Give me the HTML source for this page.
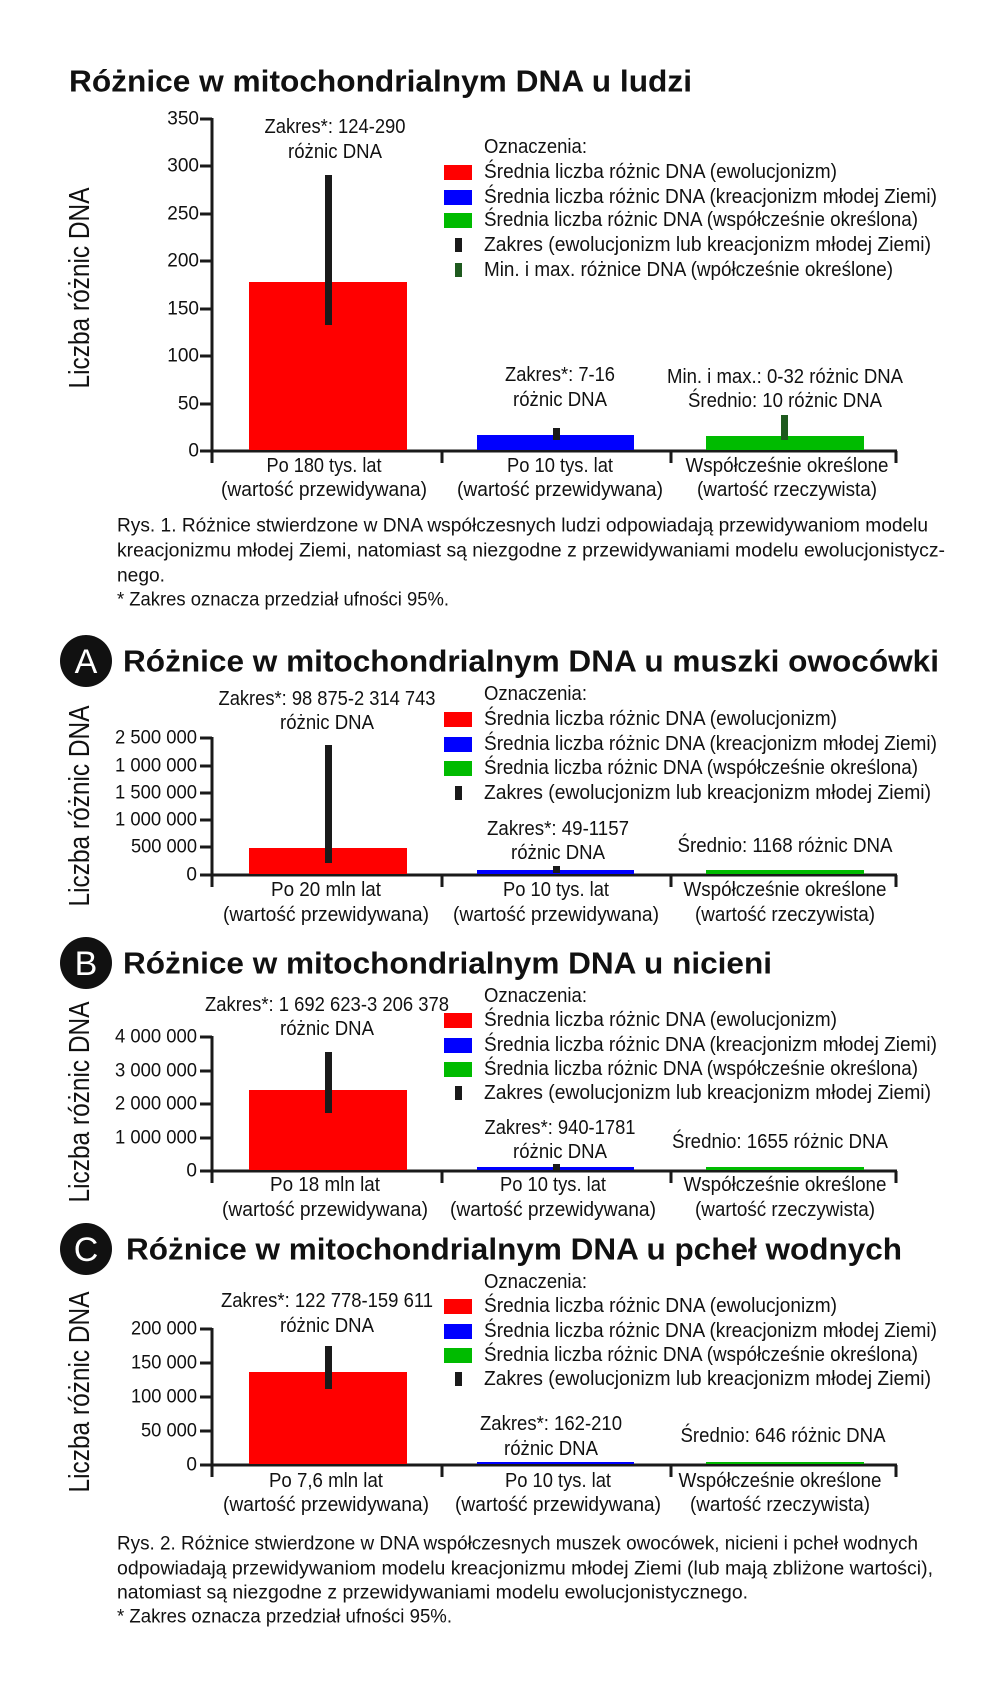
<!DOCTYPE html>
<html><head><meta charset="utf-8"><style>
html,body{margin:0;padding:0;background:#fff;}
svg{display:block;}
text{font-family:"Liberation Sans",sans-serif;fill:#111;}
</style></head><body>
<svg width="1000" height="1685" viewBox="0 0 1000 1685" xmlns="http://www.w3.org/2000/svg">
<defs></defs>
<g font-size="20" dominant-baseline="central" lengthAdjust="spacingAndGlyphs">

<!-- ============ CHART 1 ============ -->
<text x="69" y="81" font-size="31" font-weight="bold" textLength="623" lengthAdjust="spacingAndGlyphs">Różnice w mitochondrialnym DNA u ludzi</text>
<text transform="translate(80,288) rotate(-90)" text-anchor="middle" font-size="29" textLength="201" lengthAdjust="spacingAndGlyphs">Liczba różnic DNA</text>
<g stroke="#1a1a1a" stroke-width="3">
<line x1="212" y1="118" x2="212" y2="463"/>
<line x1="211" y1="451" x2="897" y2="451"/>
<line x1="200" y1="119" x2="212" y2="119"/><line x1="200" y1="166" x2="212" y2="166"/><line x1="200" y1="214" x2="212" y2="214"/><line x1="200" y1="261" x2="212" y2="261"/><line x1="200" y1="309" x2="212" y2="309"/><line x1="200" y1="356" x2="212" y2="356"/><line x1="200" y1="404" x2="212" y2="404"/><line x1="200" y1="451" x2="212" y2="451"/>
<line x1="442" y1="451" x2="442" y2="463"/><line x1="671" y1="451" x2="671" y2="463"/><line x1="896" y1="451" x2="896" y2="463"/>
</g>
<g text-anchor="end" font-size="19">
<text x="199" y="119">350</text><text x="199" y="166">300</text><text x="199" y="214">250</text><text x="199" y="261">200</text><text x="199" y="309">150</text><text x="199" y="356">100</text><text x="199" y="404">50</text><text x="199" y="451">0</text>
</g>
<rect x="249" y="282" width="158" height="168" fill="#ff0000"/>
<rect x="325" y="175" width="7" height="150" fill="#1a1a1a"/>
<rect x="477" y="435" width="157" height="15" fill="#0000ff"/>
<rect x="553" y="428" width="7" height="12" fill="#1a1a1a"/>
<rect x="706" y="436" width="158" height="14" fill="#00bb00"/>
<rect x="781" y="415" width="7" height="25" fill="#1e5a1e"/>
<g text-anchor="middle">
<text x="335" y="127" textLength="141" lengthAdjust="spacingAndGlyphs">Zakres*: 124-290</text>
<text x="335" y="152" textLength="94" lengthAdjust="spacingAndGlyphs">różnic DNA</text>
<text x="560" y="375" textLength="110" lengthAdjust="spacingAndGlyphs">Zakres*: 7-16</text>
<text x="560" y="400" textLength="94" lengthAdjust="spacingAndGlyphs">różnic DNA</text>
<text x="785" y="377" textLength="236" lengthAdjust="spacingAndGlyphs">Min. i max.: 0-32 różnic DNA</text>
<text x="785" y="401" textLength="194" lengthAdjust="spacingAndGlyphs">Średnio: 10 różnic DNA</text>
<text x="324" y="466" textLength="115" lengthAdjust="spacingAndGlyphs">Po 180 tys. lat</text>
<text x="324" y="490" textLength="206" lengthAdjust="spacingAndGlyphs">(wartość przewidywana)</text>
<text x="560" y="466" textLength="106" lengthAdjust="spacingAndGlyphs">Po 10 tys. lat</text>
<text x="560" y="490" textLength="206" lengthAdjust="spacingAndGlyphs">(wartość przewidywana)</text>
<text x="787" y="466" textLength="203" lengthAdjust="spacingAndGlyphs">Współcześnie określone</text>
<text x="787" y="490" textLength="180" lengthAdjust="spacingAndGlyphs">(wartość rzeczywista)</text>
</g>
<text x="484" y="147" textLength="103" lengthAdjust="spacingAndGlyphs">Oznaczenia:</text>
<rect x="444" y="165" width="28" height="15" fill="#ff0000"/>
<text x="484" y="172" textLength="353" lengthAdjust="spacingAndGlyphs">Średnia liczba różnic DNA (ewolucjonizm)</text>
<rect x="444" y="190" width="28" height="15" fill="#0000ff"/>
<text x="484" y="197" textLength="453" lengthAdjust="spacingAndGlyphs">Średnia liczba różnic DNA (kreacjonizm młodej Ziemi)</text>
<rect x="444" y="213" width="28" height="15" fill="#00bb00"/>
<text x="484" y="220" textLength="434" lengthAdjust="spacingAndGlyphs">Średnia liczba różnic DNA (współcześnie określona)</text>
<rect x="455" y="238" width="7" height="14" fill="#1a1a1a"/>
<text x="484" y="245" textLength="447" lengthAdjust="spacingAndGlyphs">Zakres (ewolucjonizm lub kreacjonizm młodej Ziemi)</text>
<rect x="455" y="263" width="7" height="14" fill="#1e5a1e"/>
<text x="484" y="270" textLength="409" lengthAdjust="spacingAndGlyphs">Min. i max. różnice DNA (wpółcześnie określone)</text>
<g font-size="19">
<text x="117" y="526" textLength="811" lengthAdjust="spacingAndGlyphs">Rys. 1. Różnice stwierdzone w DNA współczesnych ludzi odpowiadają przewidywaniom modelu</text>
<text x="117" y="551" textLength="828" lengthAdjust="spacingAndGlyphs">kreacjonizmu młodej Ziemi, natomiast są niezgodne z przewidywaniami modelu ewolucjonistycz-</text>
<text x="117" y="576" textLength="48" lengthAdjust="spacingAndGlyphs">nego.</text>
<text x="117" y="600" textLength="332" lengthAdjust="spacingAndGlyphs">* Zakres oznacza przedział ufności 95%.</text>
</g>

<!-- ============ CHART A ============ -->
<circle cx="86" cy="661" r="26" fill="#111"/>
<text x="86" y="662" text-anchor="middle" font-size="34" style="fill:#fff">A</text>
<text x="123" y="661" font-size="31" font-weight="bold" textLength="816" lengthAdjust="spacingAndGlyphs">Różnice w mitochondrialnym DNA u muszki owocówki</text>
<text transform="translate(80,806) rotate(-90)" text-anchor="middle" font-size="29" textLength="201" lengthAdjust="spacingAndGlyphs">Liczba różnic DNA</text>
<g stroke="#1a1a1a" stroke-width="3">
<line x1="212" y1="737" x2="212" y2="887"/>
<line x1="211" y1="875" x2="897" y2="875"/>
<line x1="200" y1="738" x2="212" y2="738"/><line x1="200" y1="766" x2="212" y2="766"/><line x1="200" y1="793" x2="212" y2="793"/><line x1="200" y1="820" x2="212" y2="820"/><line x1="200" y1="847" x2="212" y2="847"/><line x1="200" y1="875" x2="212" y2="875"/>
<line x1="442" y1="875" x2="442" y2="887"/><line x1="671" y1="875" x2="671" y2="887"/><line x1="896" y1="875" x2="896" y2="887"/>
</g>
<g text-anchor="end" font-size="19">
<text x="197" y="738" textLength="82" lengthAdjust="spacingAndGlyphs">2 500 000</text>
<text x="197" y="766" textLength="82" lengthAdjust="spacingAndGlyphs">1 000 000</text>
<text x="197" y="793" textLength="82" lengthAdjust="spacingAndGlyphs">1 500 000</text>
<text x="197" y="820" textLength="82" lengthAdjust="spacingAndGlyphs">1 000 000</text>
<text x="197" y="847" textLength="66" lengthAdjust="spacingAndGlyphs">500 000</text>
<text x="197" y="875">0</text>
</g>
<rect x="249" y="848" width="158" height="26" fill="#ff0000"/>
<rect x="325" y="745" width="7" height="118" fill="#1a1a1a"/>
<rect x="477" y="870" width="157" height="4" fill="#0000ff"/>
<rect x="553" y="866" width="7" height="7" fill="#1a1a1a"/>
<rect x="706" y="870" width="158" height="4" fill="#00bb00"/>
<g text-anchor="middle">
<text x="327" y="699" textLength="217" lengthAdjust="spacingAndGlyphs">Zakres*: 98 875-2 314 743</text>
<text x="327" y="723" textLength="94" lengthAdjust="spacingAndGlyphs">różnic DNA</text>
<text x="558" y="829" textLength="142" lengthAdjust="spacingAndGlyphs">Zakres*: 49-1157</text>
<text x="558" y="853" textLength="94" lengthAdjust="spacingAndGlyphs">różnic DNA</text>
<text x="785" y="846" textLength="215" lengthAdjust="spacingAndGlyphs">Średnio: 1168 różnic DNA</text>
<text x="326" y="890" textLength="110" lengthAdjust="spacingAndGlyphs">Po 20 mln lat</text>
<text x="326" y="915" textLength="206" lengthAdjust="spacingAndGlyphs">(wartość przewidywana)</text>
<text x="556" y="890" textLength="106" lengthAdjust="spacingAndGlyphs">Po 10 tys. lat</text>
<text x="556" y="915" textLength="206" lengthAdjust="spacingAndGlyphs">(wartość przewidywana)</text>
<text x="785" y="890" textLength="203" lengthAdjust="spacingAndGlyphs">Współcześnie określone</text>
<text x="785" y="915" textLength="180" lengthAdjust="spacingAndGlyphs">(wartość rzeczywista)</text>
</g>
<text x="484" y="694" textLength="103" lengthAdjust="spacingAndGlyphs">Oznaczenia:</text>
<rect x="444" y="712" width="28" height="15" fill="#ff0000"/>
<text x="484" y="719" textLength="353" lengthAdjust="spacingAndGlyphs">Średnia liczba różnic DNA (ewolucjonizm)</text>
<rect x="444" y="737" width="28" height="15" fill="#0000ff"/>
<text x="484" y="744" textLength="453" lengthAdjust="spacingAndGlyphs">Średnia liczba różnic DNA (kreacjonizm młodej Ziemi)</text>
<rect x="444" y="761" width="28" height="15" fill="#00bb00"/>
<text x="484" y="768" textLength="434" lengthAdjust="spacingAndGlyphs">Średnia liczba różnic DNA (współcześnie określona)</text>
<rect x="455" y="786" width="7" height="14" fill="#1a1a1a"/>
<text x="484" y="793" textLength="447" lengthAdjust="spacingAndGlyphs">Zakres (ewolucjonizm lub kreacjonizm młodej Ziemi)</text>

<!-- ============ CHART B ============ -->
<circle cx="86" cy="963" r="26" fill="#111"/>
<text x="86" y="964" text-anchor="middle" font-size="34" style="fill:#fff">B</text>
<text x="123" y="963" font-size="31" font-weight="bold" textLength="649" lengthAdjust="spacingAndGlyphs">Różnice w mitochondrialnym DNA u nicieni</text>
<text transform="translate(80,1102) rotate(-90)" text-anchor="middle" font-size="29" textLength="201" lengthAdjust="spacingAndGlyphs">Liczba różnic DNA</text>
<g stroke="#1a1a1a" stroke-width="3">
<line x1="212" y1="1036" x2="212" y2="1183"/>
<line x1="211" y1="1171" x2="897" y2="1171"/>
<line x1="200" y1="1037" x2="212" y2="1037"/><line x1="200" y1="1071" x2="212" y2="1071"/><line x1="200" y1="1104" x2="212" y2="1104"/><line x1="200" y1="1138" x2="212" y2="1138"/><line x1="200" y1="1171" x2="212" y2="1171"/>
<line x1="442" y1="1171" x2="442" y2="1183"/><line x1="671" y1="1171" x2="671" y2="1183"/><line x1="896" y1="1171" x2="896" y2="1183"/>
</g>
<g text-anchor="end" font-size="19">
<text x="197" y="1037" textLength="82" lengthAdjust="spacingAndGlyphs">4 000 000</text>
<text x="197" y="1071" textLength="82" lengthAdjust="spacingAndGlyphs">3 000 000</text>
<text x="197" y="1104" textLength="82" lengthAdjust="spacingAndGlyphs">2 000 000</text>
<text x="197" y="1138" textLength="82" lengthAdjust="spacingAndGlyphs">1 000 000</text>
<text x="197" y="1171">0</text>
</g>
<rect x="249" y="1090" width="158" height="80" fill="#ff0000"/>
<rect x="325" y="1052" width="7" height="61" fill="#1a1a1a"/>
<rect x="477" y="1167" width="157" height="3" fill="#0000ff"/>
<rect x="553" y="1164" width="7" height="6" fill="#1a1a1a"/>
<rect x="706" y="1167" width="158" height="3" fill="#00bb00"/>
<g text-anchor="middle">
<text x="327" y="1005" textLength="244" lengthAdjust="spacingAndGlyphs">Zakres*: 1 692 623-3 206 378</text>
<text x="327" y="1029" textLength="94" lengthAdjust="spacingAndGlyphs">różnic DNA</text>
<text x="560" y="1128" textLength="151" lengthAdjust="spacingAndGlyphs">Zakres*: 940-1781</text>
<text x="560" y="1152" textLength="94" lengthAdjust="spacingAndGlyphs">różnic DNA</text>
<text x="780" y="1142" textLength="216" lengthAdjust="spacingAndGlyphs">Średnio: 1655 różnic DNA</text>
<text x="325" y="1185" textLength="110" lengthAdjust="spacingAndGlyphs">Po 18 mln lat</text>
<text x="325" y="1210" textLength="206" lengthAdjust="spacingAndGlyphs">(wartość przewidywana)</text>
<text x="553" y="1185" textLength="106" lengthAdjust="spacingAndGlyphs">Po 10 tys. lat</text>
<text x="553" y="1210" textLength="206" lengthAdjust="spacingAndGlyphs">(wartość przewidywana)</text>
<text x="785" y="1185" textLength="203" lengthAdjust="spacingAndGlyphs">Współcześnie określone</text>
<text x="785" y="1210" textLength="180" lengthAdjust="spacingAndGlyphs">(wartość rzeczywista)</text>
</g>
<text x="484" y="996" textLength="103" lengthAdjust="spacingAndGlyphs">Oznaczenia:</text>
<rect x="444" y="1013" width="28" height="15" fill="#ff0000"/>
<text x="484" y="1020" textLength="353" lengthAdjust="spacingAndGlyphs">Średnia liczba różnic DNA (ewolucjonizm)</text>
<rect x="444" y="1038" width="28" height="15" fill="#0000ff"/>
<text x="484" y="1045" textLength="453" lengthAdjust="spacingAndGlyphs">Średnia liczba różnic DNA (kreacjonizm młodej Ziemi)</text>
<rect x="444" y="1062" width="28" height="15" fill="#00bb00"/>
<text x="484" y="1069" textLength="434" lengthAdjust="spacingAndGlyphs">Średnia liczba różnic DNA (współcześnie określona)</text>
<rect x="455" y="1086" width="7" height="14" fill="#1a1a1a"/>
<text x="484" y="1093" textLength="447" lengthAdjust="spacingAndGlyphs">Zakres (ewolucjonizm lub kreacjonizm młodej Ziemi)</text>

<!-- ============ CHART C ============ -->
<circle cx="86" cy="1249" r="26" fill="#111"/>
<text x="86" y="1250" text-anchor="middle" font-size="34" style="fill:#fff">C</text>
<text x="126" y="1249" font-size="31" font-weight="bold" textLength="776" lengthAdjust="spacingAndGlyphs">Różnice w mitochondrialnym DNA u pcheł wodnych</text>
<text transform="translate(80,1392) rotate(-90)" text-anchor="middle" font-size="29" textLength="201" lengthAdjust="spacingAndGlyphs">Liczba różnic DNA</text>
<g stroke="#1a1a1a" stroke-width="3">
<line x1="212" y1="1328" x2="212" y2="1477"/>
<line x1="211" y1="1465" x2="897" y2="1465"/>
<line x1="200" y1="1329" x2="212" y2="1329"/><line x1="200" y1="1363" x2="212" y2="1363"/><line x1="200" y1="1397" x2="212" y2="1397"/><line x1="200" y1="1431" x2="212" y2="1431"/><line x1="200" y1="1465" x2="212" y2="1465"/>
<line x1="442" y1="1465" x2="442" y2="1477"/><line x1="671" y1="1465" x2="671" y2="1477"/><line x1="896" y1="1465" x2="896" y2="1477"/>
</g>
<g text-anchor="end" font-size="19">
<text x="197" y="1329" textLength="66" lengthAdjust="spacingAndGlyphs">200 000</text>
<text x="197" y="1363" textLength="66" lengthAdjust="spacingAndGlyphs">150 000</text>
<text x="197" y="1397" textLength="66" lengthAdjust="spacingAndGlyphs">100 000</text>
<text x="197" y="1431" textLength="56" lengthAdjust="spacingAndGlyphs">50 000</text>
<text x="197" y="1465">0</text>
</g>
<rect x="249" y="1372" width="158" height="92" fill="#ff0000"/>
<rect x="325" y="1346" width="7" height="43" fill="#1a1a1a"/>
<rect x="477" y="1462" width="157" height="2" fill="#0000ff"/>
<rect x="706" y="1462" width="158" height="2" fill="#00bb00"/>
<g text-anchor="middle">
<text x="327" y="1301" textLength="212" lengthAdjust="spacingAndGlyphs">Zakres*: 122 778-159 611</text>
<text x="327" y="1326" textLength="94" lengthAdjust="spacingAndGlyphs">różnic DNA</text>
<text x="551" y="1424" textLength="142" lengthAdjust="spacingAndGlyphs">Zakres*: 162-210</text>
<text x="551" y="1449" textLength="94" lengthAdjust="spacingAndGlyphs">różnic DNA</text>
<text x="783" y="1436" textLength="205" lengthAdjust="spacingAndGlyphs">Średnio: 646 różnic DNA</text>
<text x="326" y="1481" textLength="114" lengthAdjust="spacingAndGlyphs">Po 7,6 mln lat</text>
<text x="326" y="1505" textLength="206" lengthAdjust="spacingAndGlyphs">(wartość przewidywana)</text>
<text x="558" y="1481" textLength="106" lengthAdjust="spacingAndGlyphs">Po 10 tys. lat</text>
<text x="558" y="1505" textLength="206" lengthAdjust="spacingAndGlyphs">(wartość przewidywana)</text>
<text x="780" y="1481" textLength="203" lengthAdjust="spacingAndGlyphs">Współcześnie określone</text>
<text x="780" y="1505" textLength="180" lengthAdjust="spacingAndGlyphs">(wartość rzeczywista)</text>
</g>
<text x="484" y="1282" textLength="103" lengthAdjust="spacingAndGlyphs">Oznaczenia:</text>
<rect x="444" y="1299" width="28" height="15" fill="#ff0000"/>
<text x="484" y="1306" textLength="353" lengthAdjust="spacingAndGlyphs">Średnia liczba różnic DNA (ewolucjonizm)</text>
<rect x="444" y="1324" width="28" height="15" fill="#0000ff"/>
<text x="484" y="1331" textLength="453" lengthAdjust="spacingAndGlyphs">Średnia liczba różnic DNA (kreacjonizm młodej Ziemi)</text>
<rect x="444" y="1348" width="28" height="15" fill="#00bb00"/>
<text x="484" y="1355" textLength="434" lengthAdjust="spacingAndGlyphs">Średnia liczba różnic DNA (współcześnie określona)</text>
<rect x="455" y="1372" width="7" height="14" fill="#1a1a1a"/>
<text x="484" y="1379" textLength="447" lengthAdjust="spacingAndGlyphs">Zakres (ewolucjonizm lub kreacjonizm młodej Ziemi)</text>

<g font-size="19">
<text x="117" y="1544" textLength="801" lengthAdjust="spacingAndGlyphs">Rys. 2. Różnice stwierdzone w DNA współczesnych muszek owocówek, nicieni i pcheł wodnych</text>
<text x="117" y="1569" textLength="816" lengthAdjust="spacingAndGlyphs">odpowiadają przewidywaniom modelu kreacjonizmu młodej Ziemi (lub mają zbliżone wartości),</text>
<text x="117" y="1593" textLength="631" lengthAdjust="spacingAndGlyphs">natomiast są niezgodne z przewidywaniami modelu ewolucjonistycznego.</text>
<text x="117" y="1617" textLength="335" lengthAdjust="spacingAndGlyphs">* Zakres oznacza przedział ufności 95%.</text>
</g>
</g>
</svg>
</body></html>
